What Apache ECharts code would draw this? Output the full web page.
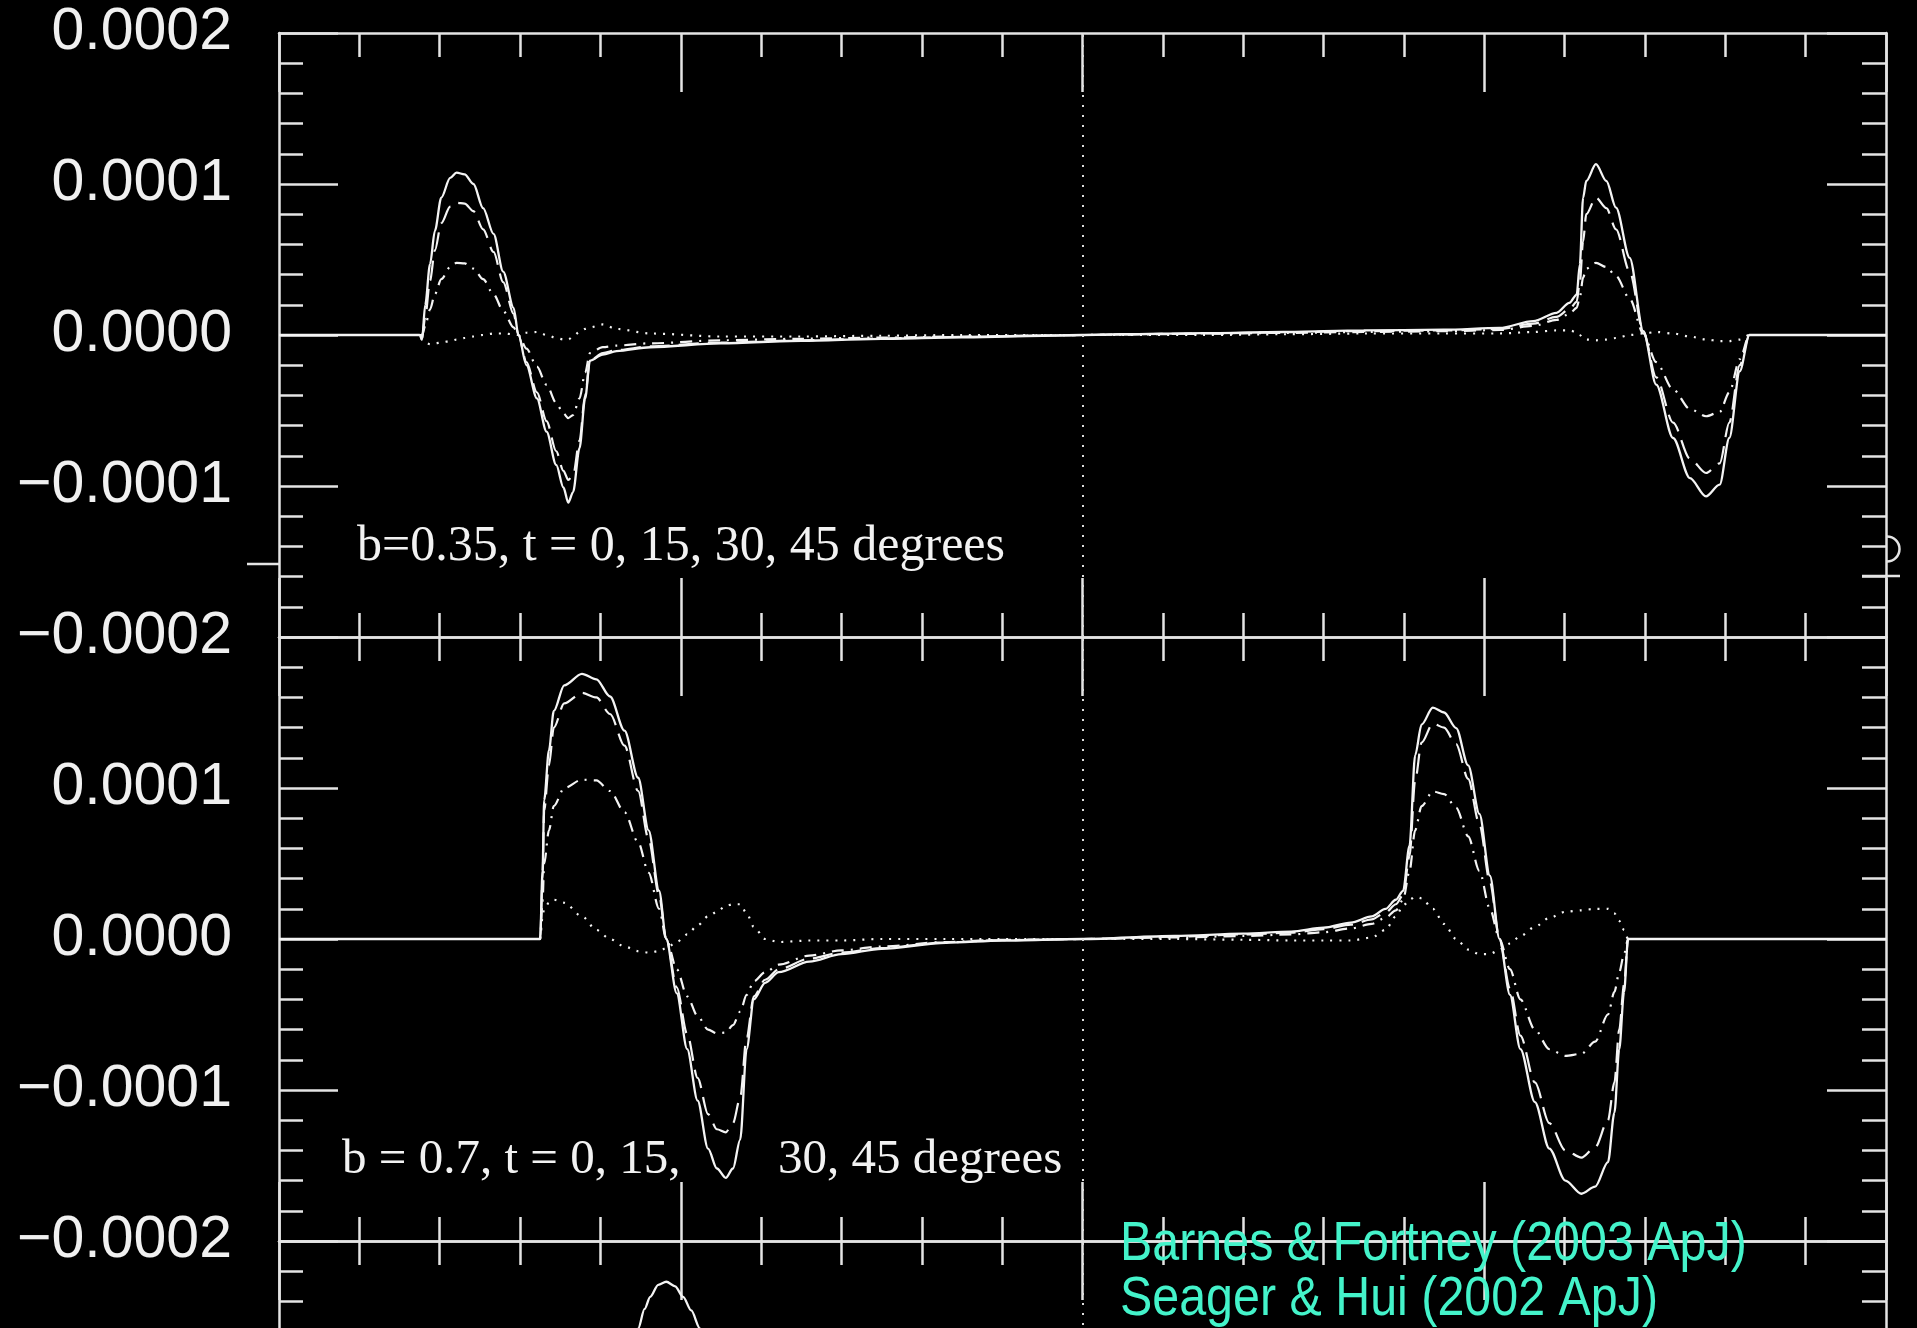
<!DOCTYPE html>
<html>
<head>
<meta charset="utf-8">
<script src="https://cdn.jsdelivr.net/npm/echarts@6/dist/echarts.min.js"></script>
<style>
  html, body { margin: 0; padding: 0; background: #000; }
  #chart { width: 1917px; height: 1328px; }
</style>
</head>
<body>
<div id="chart"></div>
<script>
// ---- data (y values in units of 1e-4) ----
const UNIT = 1e-4;

// top panel: b = 0.35
const topX   = [-10, -8.25, -8.22, -8.18, -8.12, -8.06, -7.98, -7.87, -7.79, -7.69, -7.58, -7.46, -7.33, -7.21, -7.08, -7.02, -6.92, -6.79, -6.67, -6.55, -6.46, -6.40, -6.34, -6.26, -6.19, -6.13, -5.97, -5.80, -5.38, -4.5, -3.5, -2.5, -1.5, -0.5, 0, 0.5, 1.5, 2.5, 3.5, 4.5, 5.19, 5.61, 5.90, 6.06, 6.15, 6.19, 6.23, 6.27, 6.39, 6.52, 6.64, 6.81, 6.98, 7.14, 7.35, 7.56, 7.76, 7.93, 8.05, 8.18, 8.30, 10];
const topT0  = [0, 0, -0.03, 0.20, 0.47, 0.69, 0.91, 1.04, 1.075, 1.064, 1.00, 0.84, 0.67, 0.42, 0.18, 0.0, -0.20, -0.42, -0.64, -0.86, -1.01, -1.11, -1.04, -0.75, -0.42, -0.17, -0.13, -0.107, -0.081, -0.055, -0.038, -0.025, -0.015, -0.005, 0, 0.005, 0.012, 0.02, 0.03, 0.035, 0.047, 0.092, 0.147, 0.213, 0.268, 0.467, 0.909, 1.02, 1.131, 1.02, 0.843, 0.511, 0.025, -0.328, -0.682, -0.948, -1.069, -0.991, -0.682, -0.24, 0, 0];
const topT15 = [0, 0, -0.02, 0.12, 0.36, 0.56, 0.74, 0.85, 0.876, 0.87, 0.82, 0.70, 0.55, 0.35, 0.14, 0.0, -0.18, -0.38, -0.57, -0.77, -0.90, -0.96, -0.93, -0.70, -0.40, -0.17, -0.12, -0.10, -0.075, -0.05, -0.035, -0.023, -0.013, -0.004, 0, 0.004, 0.01, 0.018, 0.026, 0.03, 0.04, 0.075, 0.12, 0.17, 0.22, 0.35, 0.62, 0.80, 0.91, 0.84, 0.70, 0.42, 0.02, -0.28, -0.58, -0.82, -0.914, -0.85, -0.58, -0.20, 0, 0];
const topT30 = [0, 0, 0, 0.06, 0.17, 0.27, 0.37, 0.45, 0.478, 0.475, 0.44, 0.37, 0.27, 0.16, 0.05, 0.0, -0.09, -0.21, -0.33, -0.45, -0.52, -0.55, -0.53, -0.42, -0.25, -0.12, -0.08, -0.07, -0.055, -0.035, -0.025, -0.017, -0.01, -0.003, 0, 0.003, 0.008, 0.014, 0.02, 0.025, 0.033, 0.06, 0.10, 0.14, 0.18, 0.25, 0.38, 0.44, 0.478, 0.45, 0.39, 0.24, 0.01, -0.18, -0.36, -0.49, -0.538, -0.51, -0.38, -0.16, 0, 0];
const topT45 = [0, 0, -0.03, -0.05, -0.06, -0.055, -0.05, -0.04, -0.03, -0.02, -0.01, 0.0, 0.01, 0.01, 0.005, 0.0, 0.015, 0.02, 0.0, -0.02, -0.03, -0.03, -0.01, 0.02, 0.04, 0.05, 0.07, 0.04, 0.01, -0.01, -0.01, -0.005, 0, 0, 0, 0, 0, 0.005, 0.01, 0.01, 0.01, 0.02, 0.03, 0.03, 0.02, 0.0, -0.02, -0.03, -0.035, -0.03, -0.02, 0.0, 0.01, 0.02, 0.01, -0.01, -0.03, -0.04, -0.04, -0.03, 0, 0];

// bottom panel: b = 0.7
const botX   = [-10, -6.75, -6.72, -6.70, -6.64, -6.58, -6.45, -6.23, -6.05, -5.88, -5.70, -5.53, -5.40, -5.27, -5.18, -5.05, -4.92, -4.79, -4.66, -4.55, -4.44, -4.35, -4.26, -4.18, -4.09, -3.95, -3.78, -3.4, -3.0, -2.5, -1.7, -1.0, 0, 1.15, 2.0, 2.6, 3.0, 3.34, 3.6, 3.77, 3.9, 3.99, 4.07, 4.14, 4.22, 4.36, 4.50, 4.65, 4.80, 4.94, 5.07, 5.19, 5.32, 5.45, 5.63, 5.81, 6.01, 6.21, 6.38, 6.54, 6.62, 6.68, 6.74, 6.79, 10];
const botT0  = [0, 0, 0.45, 0.92, 1.25, 1.51, 1.68, 1.756, 1.72, 1.606, 1.38, 1.068, 0.72, 0.32, 0.0, -0.36, -0.729, -1.07, -1.388, -1.52, -1.582, -1.52, -1.328, -0.729, -0.40, -0.29, -0.22, -0.15, -0.10, -0.065, -0.025, -0.01, 0, 0.02, 0.035, 0.049, 0.075, 0.109, 0.15, 0.199, 0.26, 0.319, 0.618, 1.217, 1.42, 1.532, 1.50, 1.397, 1.15, 0.828, 0.42, 0, -0.37, -0.729, -1.08, -1.388, -1.60, -1.687, -1.64, -1.478, -1.15, -0.729, -0.35, 0, 0];
const botT15 = [0, 0, 0.40, 0.85, 1.15, 1.40, 1.56, 1.63, 1.60, 1.49, 1.28, 0.98, 0.66, 0.29, 0.0, -0.32, -0.63, -0.92, -1.16, -1.26, -1.28, -1.22, -1.05, -0.65, -0.38, -0.27, -0.20, -0.13, -0.09, -0.06, -0.022, -0.008, 0, 0.015, 0.03, 0.042, 0.065, 0.095, 0.13, 0.175, 0.23, 0.29, 0.55, 1.05, 1.30, 1.426, 1.40, 1.29, 1.06, 0.76, 0.38, 0, -0.33, -0.64, -0.95, -1.22, -1.40, -1.448, -1.38, -1.20, -0.95, -0.60, -0.30, 0, 0];
const botT30 = [0, 0, 0.25, 0.50, 0.72, 0.88, 1.00, 1.055, 1.05, 0.98, 0.84, 0.64, 0.44, 0.20, 0.0, -0.20, -0.38, -0.51, -0.60, -0.625, -0.62, -0.57, -0.48, -0.37, -0.28, -0.22, -0.17, -0.11, -0.075, -0.05, -0.02, -0.006, 0, 0.01, 0.02, 0.03, 0.045, 0.07, 0.10, 0.14, 0.19, 0.26, 0.45, 0.72, 0.88, 0.977, 0.96, 0.87, 0.68, 0.45, 0.20, 0, -0.20, -0.40, -0.60, -0.73, -0.774, -0.76, -0.68, -0.50, -0.35, -0.22, -0.10, 0, 0];
const botT45 = [0, 0, 0.15, 0.20, 0.24, 0.26, 0.24, 0.15, 0.06, 0.0, -0.05, -0.08, -0.09, -0.08, -0.06, -0.02, 0.03, 0.09, 0.15, 0.18, 0.22, 0.23, 0.23, 0.17, 0.08, 0.0, -0.02, -0.01, -0.01, 0, 0, 0, 0, 0, -0.005, -0.01, -0.01, -0.01, 0.01, 0.06, 0.15, 0.22, 0.26, 0.28, 0.27, 0.20, 0.10, 0.0, -0.07, -0.10, -0.10, -0.07, -0.03, 0.02, 0.08, 0.14, 0.18, 0.19, 0.20, 0.20, 0.17, 0.12, 0.06, 0, 0];

// third panel (only the top of one peak is visible)
const thirdX  = [-10, -5.95, -5.80, -5.65, -5.53, -5.45, -5.38, -5.28, -5.18, -5.07, -4.97, -4.87, -4.76, -4.62, -4.45];
const thirdT0 = [0, 0, 0.5, 1.05, 1.42, 1.55, 1.63, 1.71, 1.73, 1.70, 1.63, 1.54, 1.42, 1.15, 0.7];

// ---- build ----
const zip = (xs, ys) => xs.map((x, i) => [x, ys[i] * UNIT]);
const AX = '#e4e4e4';
const LINE = '#f4f4f4';

const grids = [
  { left: 279, top: 33, width: 1607, height: 604, outerBoundsMode: 'none', containLabel: false },
  { left: 279, top: 637, width: 1607, height: 604, outerBoundsMode: 'none', containLabel: false },
  { left: 279, top: 1241, width: 1607, height: 604, outerBoundsMode: 'none', containLabel: false }
];

function xAx(gi, pos) {
  return {
    type: 'value', gridIndex: gi, position: pos, min: -10, max: 10, interval: 5,
    axisLine: { show: true, onZero: false, lineStyle: { color: AX, width: 2.5 } },
    axisTick: { show: true, inside: true, length: 59, lineStyle: { color: AX, width: 2.5 } },
    minorTick: { show: true, splitNumber: 5, length: 24, lineStyle: { color: AX, width: 2.5 } },
    axisLabel: { show: false }, splitLine: { show: false }
  };
}
function fmt(v) {
  const s = Math.abs(v).toFixed(4);
  return (v < -1e-12 ? '\u2212' : '') + s;
}
function yAx(gi, pos, labelMode) {
  return {
    type: 'value', gridIndex: gi, position: pos, min: -0.0002, max: 0.0002, interval: 0.0001,
    axisLine: { show: true, onZero: false, lineStyle: { color: AX, width: 2.5 } },
    axisTick: { show: true, inside: true, length: 59, lineStyle: { color: AX, width: 2.5 } },
    minorTick: { show: true, splitNumber: 5, length: 24, lineStyle: { color: AX, width: 2.5 } },
    splitLine: { show: false },
    axisLabel: {
      show: labelMode !== 'none', margin: 47, formatter: fmt,
      showMaxLabel: labelMode === 'all', showMinLabel: true,
      color: '#f0f0f0', fontSize: 59, fontFamily: "'Liberation Sans', Arial, Helvetica, sans-serif"
    }
  };
}

const xAxis = [], yAxis = [];
for (let g = 0; g < 3; g++) {
  xAxis.push(xAx(g, 'bottom'), xAx(g, 'top'));
  yAxis.push(yAx(g, 'left', g === 0 ? 'all' : (g === 1 ? 'noMax' : 'none')), yAx(g, 'right', 'none'));
}

const styles = {
  t0:  { type: 'solid', width: 2.3 },
  t15: { type: [20, 9], width: 2.2 },
  t30: { type: [12, 7, 2, 7], width: 2.2 },
  t45: { type: [2, 7], width: 2.2 }
};
const centerLine = {
  silent: true, symbol: ['none', 'none'], animation: false,
  label: { show: false },
  lineStyle: { color: '#dcdcdc', type: [2, 8], width: 2 },
  data: [{ xAxis: 0 }]
};
function ser(g, name, xs, ys, st, withCenter) {
  const s = {
    type: 'line', name, xAxisIndex: 2 * g, yAxisIndex: 2 * g,
    data: zip(xs, ys), showSymbol: false, symbol: 'none', smooth: 0.3, smoothMonotone: 'x',
    lineStyle: Object.assign({ color: LINE }, st), animation: false, clip: true, z: 3
  };
  if (withCenter) s.markLine = centerLine;
  return s;
}

const series = [
  ser(0, 't45', topX, topT45, styles.t45, true),
  ser(0, 't30', topX, topT30, styles.t30),
  ser(0, 't15', topX, topT15, styles.t15),
  ser(0, 't0',  topX, topT0,  styles.t0),
  ser(1, 't45', botX, botT45, styles.t45, true),
  ser(1, 't30', botX, botT30, styles.t30),
  ser(1, 't15', botX, botT15, styles.t15),
  ser(1, 't0',  botX, botT0,  styles.t0),
  ser(2, 't0',  thirdX, thirdT0, styles.t0, true)
];

const serif = "'Liberation Serif', 'Times New Roman', Times, serif";
const cite = "'Liberation Sans', Arial, Helvetica, sans-serif";
const graphic = [
  { type: 'text', x: 357, y: 522, style: { text: 'b=0.35, t = 0, 15, 30, 45 degrees', fill: '#f2f2f2', font: '50px ' + serif } },
  { type: 'text', x: 342, y: 1136, style: { text: 'b = 0.7, t = 0, 15,', fill: '#f2f2f2', font: '49px ' + serif } },
  { type: 'text', x: 778, y: 1136, style: { text: '30, 45 degrees', fill: '#f2f2f2', font: '49px ' + serif } },
  { type: 'text', x: 1120, y: 1217, scaleX: 0.88, z: 10, style: { text: 'Barnes & Fortney (2003 ApJ)', fill: '#44f3ca', font: '55px ' + cite } },
  { type: 'text', x: 1120, y: 1272, scaleX: 0.88, z: 10, style: { text: 'Seager & Hui (2002 ApJ)', fill: '#44f3ca', font: '55px ' + cite } },
  { type: 'line', shape: { x1: 247, y1: 564, x2: 279, y2: 564 }, style: { stroke: AX, lineWidth: 2.5 } },
  { type: 'line', shape: { x1: 1862, y1: 576, x2: 1900, y2: 576 }, style: { stroke: AX, lineWidth: 2.5 } },
  { type: 'arc', shape: { cx: 1887, cy: 549, r: 12.5, startAngle: -Math.PI / 2, endAngle: Math.PI / 2 }, style: { stroke: AX, lineWidth: 2.5, fill: null } }
];

const chart = echarts.init(document.getElementById('chart'), null, { renderer: 'canvas' });
chart.setOption({
  backgroundColor: '#000',
  animation: false,
  grid: grids,
  xAxis, yAxis, series, graphic
});
</script>
</body>
</html>
